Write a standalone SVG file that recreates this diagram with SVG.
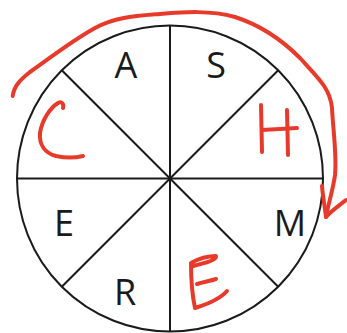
<svg xmlns="http://www.w3.org/2000/svg" width="347" height="333" viewBox="0 0 347 333">
<style>
.ln{stroke:#1a1a1a;stroke-width:2;fill:none}
.lbl{font-family:"Open Sans","Liberation Sans",sans-serif;font-size:36px;fill:#1a1a1a;text-anchor:middle}
.red{stroke:#e83a2a;stroke-width:4;fill:none;stroke-linecap:round;stroke-linejoin:round}
</style>
<rect width="347" height="333" fill="#fff"/>
<g id="wheel">
<circle class="ln" cx="170" cy="178.5" r="153"/>
</g>
<g id="connectors">
<line class="ln" x1="170" y1="25.5" x2="170" y2="331.5"/>
<line class="ln" x1="17" y1="178.5" x2="323" y2="178.5"/>
<line class="ln" x1="61.8" y1="70.3" x2="278.2" y2="286.7"/>
<line class="ln" x1="278.2" y1="70.3" x2="61.8" y2="286.7"/>
<path class="red" d="M12.7,96 C14,86 20,80 30,72 C50,58 70,42 95,28 C115,17 135,16 160,14 C185,12 210,10 235,17 C260,25 280,38 300,58 C318,78 330,88 332,108 C333,130 337,155 335,175 C333,190 328,205 326,217"/>
<path class="red" d="M322,186 C323,198 325,208 326,217 C332,210 340,205 346,200"/>
</g>
<g id="A"><text class="lbl" x="126" y="78">A</text></g>
<g id="S"><text class="lbl" x="216" y="78">S</text></g>
<g id="E1"><text class="lbl" x="64" y="236">E</text></g>
<g id="M"><text class="lbl" x="290" y="236">M</text></g>
<g id="R"><text class="lbl" x="125" y="305">R</text></g>
<g id="C">
<path class="red" d="M63,108 C64,104 62,101 58,103 C50,108 42,120 40,133 C39,145 45,153 56,156 C65,158 75,158 83,156"/>
</g>
<g id="H">
<path class="red" d="M261,105 L262,152 M287,110 L288,155 M262,130 L297,128"/>
</g>
<g id="E2">
<path class="red" d="M191,263 C198,259 208,256 216,256 C217,260 205,263 193,266 M191,264 C191,278 192,294 195,308 C208,304 220,299 227,291 M197,284 C203,282 210,281 216,279"/>
</g>
</svg>
